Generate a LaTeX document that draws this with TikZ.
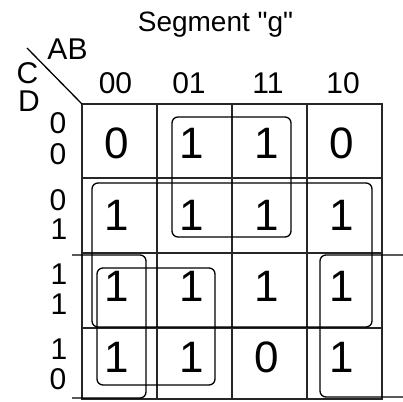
\documentclass[tikz,border=0pt]{standalone}
\usepackage{fontspec}
\setmainfont{Liberation Sans}
\newfontfamily\plainsans{Liberation Sans}
\begin{document}
\begin{tikzpicture}[x=1pt,y=-1pt,
  gridline/.style={line width=1.7pt, black!85},
  grouploop/.style={line width=1.3pt, black, rounded corners=6pt},
  celltxt/.style={font=\fontsize{44}{44}\selectfont, inner sep=0pt},
  lbl/.style={font=\fontsize{30}{30}\selectfont, inner sep=0pt},
  titletxt/.style={font=\plainsans\fontsize{28}{28}\selectfont, inner sep=0pt}]
\useasboundingbox (0,0) rectangle (403,401);
\fill[white] (0,0) rectangle (403,401);

% grid
\coordinate (corner) at (82,104);
\draw[gridline] (corner) rectangle (382,399);
\foreach \x in {157,232,307} \draw[gridline] (\x,104) -- (\x,399);
\foreach \y in {178,253,328} \draw[gridline] (82,\y) -- (382,\y);

% diagonal
\coordinate (dstart) at (27,48);
\draw[line width=1.3pt] (dstart) -- (corner);

% title and labels
\node[titletxt, anchor=base] (title) at (215.5,32) {Segment "g"};
\node[lbl] (AB) at (67.5,49) {AB};
\node[lbl] (C) at (27.5,73) {C};
\node[lbl] (D) at (29,101) {D};

\node[lbl, anchor=base] (c00) at (115.5,93) {00};
\node[lbl, anchor=base] (c01) at (189,93) {01};
\node[lbl, anchor=base] (c11) at (268,93) {11};
\node[lbl, anchor=base] (c10) at (343,93) {10};

\node[lbl] (r00a) at (58,123.5) {0};
\node[lbl] (r00b) at (58,154) {0};
\node[lbl] (r01a) at (58,200) {0};
\node[lbl] (r01b) at (59,229) {1};
\node[lbl] (r11a) at (59,274) {1};
\node[lbl] (r11b) at (59,304) {1};
\node[lbl] (r10a) at (59,349) {1};
\node[lbl] (r10b) at (58,379) {0};

% cells
\foreach \v [count=\i from 0] in {0,1,1,0} \node[celltxt] (m0\i) at (117+75*\i,143.5) {\v};
\foreach \v [count=\i from 0] in {1,1,1,1} \node[celltxt] (m1\i) at (117+75*\i,215) {\v};
\foreach \v [count=\i from 0] in {1,1,1,1} \node[celltxt] (m2\i) at (117+75*\i,286.5) {\v};
\foreach \v [count=\i from 0] in {1,1,0,1} \node[celltxt] (m3\i) at (117+75*\i,357.5) {\v};

% groups
\draw[grouploop] (172,117) rectangle (291,237);
\draw[grouploop] (92,183) rectangle (372,327);
\draw[grouploop] (97,268) rectangle (215,385);
\draw[grouploop] (72,255) -- (146,255) -- (146,398) -- (72,398);
\draw[grouploop] (403,255) -- (320,255) -- (320,397) -- (403,397);
\end{tikzpicture}
\end{document}
